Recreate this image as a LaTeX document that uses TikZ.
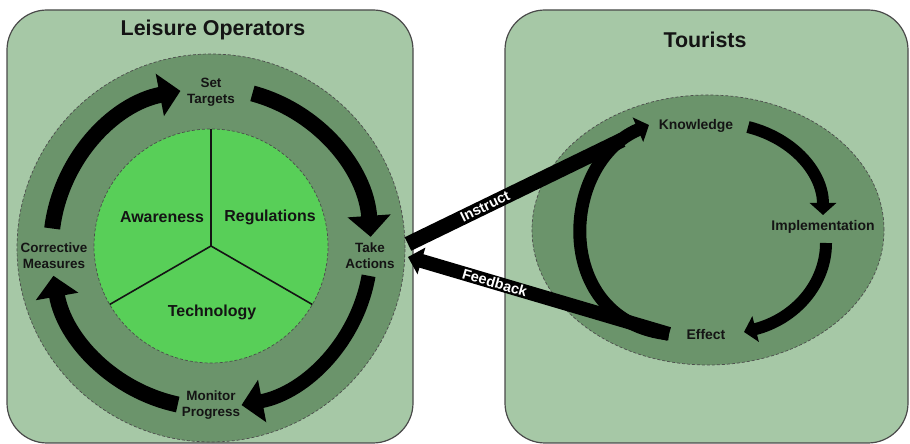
\documentclass[tikz,border=0pt]{standalone}
\usepackage{fontspec}
\setmainfont{Liberation Sans}
\usetikzlibrary{arrows.meta}
\definecolor{panel}{HTML}{A6C8A6}
\definecolor{ring}{HTML}{6B946B}
\definecolor{core}{HTML}{58CF58}
\definecolor{edge}{HTML}{4A4A4A}
\definecolor{ink}{HTML}{141414}
\begin{document}
\begin{tikzpicture}[x=1bp,y=1bp,
  panelbox/.style={draw=edge, line width=1.2bp, fill=panel, rounded corners=40bp},
  dashring/.style={draw=black!70, dash pattern=on 3bp off 2bp, line width=0.7bp},
  bigarrow/.style={line width=16bp, -{Triangle[width=42bp,length=21bp]}},
  smallarrow/.style={line width=13bp, -{Triangle[width=26bp,length=12bp]}},
  title/.style={font=\bfseries\fontsize{21.5}{25}\selectfont, text=ink},
  sector/.style={font=\bfseries\fontsize{16}{19}\selectfont, text=ink},
  lbl/.style={font=\bfseries\fontsize{13.5}{16}\selectfont, align=center, text=ink, inner sep=0pt},
  rlbl/.style={font=\bfseries\fontsize{14}{16}\selectfont, text=ink, inner sep=0pt},
  wlbl/.style={font=\bfseries\fontsize{14.5}{16}\selectfont, text=white, inner sep=0pt}
]
\useasboundingbox (0,0) rectangle (910,444);
\fill[white] (0,0) rectangle (910,444);
% panels
\path[panelbox] (7,1) rectangle (413,434);
\path[panelbox] (505,1) rectangle (908,434);
\node[title] (lt) at (213,414) {Leisure Operators};
\node[title] (rt) at (705,404) {Tourists};
% left cycle
\coordinate (c) at (211,196);
\coordinate (ci) at (211,198);
\path[fill=ring, dashring] (c) circle[radius=194];
\path[fill=core, dashring] (ci) circle[radius=117];
\draw[line width=1.6bp, ink] (ci) -- ++(90:117);
\draw[line width=1.6bp, ink] (ci) -- ++(210:117);
\draw[line width=1.6bp, ink] (ci) -- ++(330:117);
\node[sector] (aw) at (162,227) {Awareness};
\node[sector] (re) at (270,227) {Regulations};
\node[sector] (te) at (212,132) {Technology};
\draw[bigarrow] (c) ++(173:160) arc[start angle=173, end angle=101, radius=160];
\draw[bigarrow] (c) ++(75:160) arc[start angle=75, end angle=4, radius=160];
\draw[bigarrow, line width=14bp] (c) ++(-10:160) arc[start angle=-10, end angle=-79, radius=160];
\draw[bigarrow] (c) ++(-102:160) arc[start angle=-102, end angle=-170, radius=160];
\node[lbl] (st) at (211,352) {Set\\Targets};
\node[lbl] (ta) at (370,188) {Take\\Actions};
\node[lbl] (mp) at (211,39) {Monitor\\Progress};
\node[lbl] (cm) at (54,188) {Corrective\\Measures};
% right cycle
\path[fill=ring, dashring] (708,214) ellipse[x radius=176, y radius=135];
\node[rlbl] (kn) at (696,318) {Knowledge};
\node[rlbl] (im) at (823,217) {Implementation};
\node[rlbl] (ef) at (706,109) {Effect};
\coordinate (k0) at (748,317);
\coordinate (i1) at (823,229);
\coordinate (i0) at (826,201);
\coordinate (e1) at (744,112);
\coordinate (e0) at (669,110);
\coordinate (k1) at (649,319);
\draw[smallarrow, line width=12bp] (k0) .. controls (795,305) and (823,270) .. (i1);
\draw[smallarrow, line width=12bp] (i0) .. controls (826,160) and (795,125) .. (e1);
\draw[smallarrow] (e0) .. controls (553,122) and (558,280) .. (k1);
% instruct / feedback
\coordinate (is) at (408,200);
\coordinate (ie) at (622,304);
\coordinate (ft) at (408,187);
\draw[line width=15bp] (is) -- (ie) node[wlbl, pos=0.36, sloped] {Instruct};
\draw[line width=14bp, -{Triangle[width=27bp,length=14bp]}] (e0) -- (ft) node[wlbl, pos=0.667, sloped] {Feedback};
\end{tikzpicture}
\end{document}
